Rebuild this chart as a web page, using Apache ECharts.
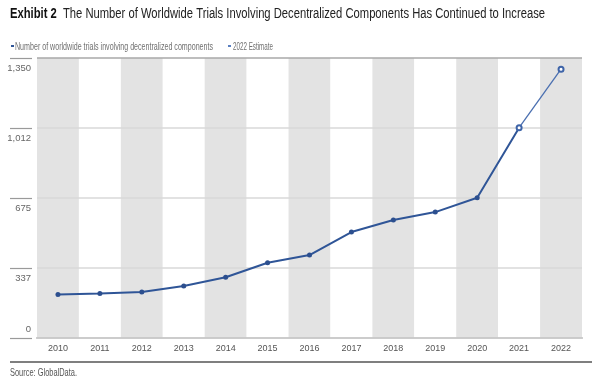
<!DOCTYPE html>
<html><head><meta charset="utf-8">
<script src="https://cdn.jsdelivr.net/npm/echarts@6/dist/echarts.min.js"></script>
<style>html,body{margin:0;padding:0;background:#fff}#c{width:600px;height:380px}</style>
</head><body><div id="c"></div>
<script>
var years = ['2010','2011','2012','2013','2014','2015','2016','2017','2018','2019','2020','2021','2022'];
var trials = [210, 215, 222, 251, 293, 363, 400, 511, 569, 607, 676, 1014, null];
var estimate = [null, null, null, null, null, null, null, null, null, null, null, 1014, 1296];
var yTickLabels = ['0', '337', '675', '1,012', '1,350'];
var seriesNames = ['Number of worldwide trials involving decentralized components', '2022 Estimate'];
var titleBold = 'Exhibit 2';
var titleText = 'The Number of Worldwide Trials Involving Decentralized Components Has Continued to Increase';
var sourceText = 'Source: GlobalData.';
var FONT = '"Liberation Sans",Arial,sans-serif';

var cv = document.createElement('canvas').getContext('2d');
function tw(font, s) { cv.font = font; return cv.measureText(s).width; }

var titleW = tw('bold 14px ' + FONT, titleBold) + tw('14px ' + FONT, '  ' + titleText);
var titleScale = 535 / titleW;
var leg1Scale = 198 / tw('11px ' + FONT, seriesNames[0]);
var leg2Scale = 40 / tw('11px ' + FONT, seriesNames[1]);
var srcScale = 67 / tw('11px ' + FONT, sourceText);

var chart = echarts.init(document.getElementById('c'), null, {renderer:'canvas'});
chart.setOption({
  animation: false,
  backgroundColor: '#fff',
  grid: { left: 37, right: 18, top: 58, bottom: 42 },
  xAxis: {
    type: 'category', data: years, boundaryGap: true, z: 0,
    axisLine: { show: true, lineStyle: { color: '#8a8a8a', width: 1.5 } },
    axisTick: { show: false },
    axisLabel: { fontFamily: FONT, fontSize: 9, color: '#555', margin: 6 },
    splitArea: { show: true, areaStyle: { color: ['#e3e3e3', '#ffffff'] } }
  },
  yAxis: {
    type: 'value', min: 0, max: 1350, interval: 337.5, offset: 5, z: 2,
    axisLine: { show: false },
    axisTick: { show: true, length: 22, lineStyle: { color: '#9a9a9a', width: 1.2 } },
    axisLabel: {
      fontFamily: FONT, fontSize: 9.5, color: '#666', margin: 1,
      formatter: function (v, i) { return i === 0 ? '{up|' + yTickLabels[i] + '}' : '{dn|' + yTickLabels[i] + '}'; },
      rich: {
        up: { fontFamily: FONT, fontSize: 9.5, color: '#666', padding: [0, 0, 18, 0] },
        dn: { fontFamily: FONT, fontSize: 9.5, color: '#666', padding: [20, 0, 0, 0] }
      }
    },
    splitLine: { show: true, lineStyle: { color: ['#d8d8d8','#d8d8d8','#d8d8d8','#d8d8d8','#a8a8a8'], width: 1.5 } }
  },
  series: [
    {
      name: seriesNames[0],
      type: 'line', data: trials, z: 3,
      lineStyle: { width: 2, color: '#2f5597' },
      symbol: 'circle', symbolSize: 5,
      itemStyle: { color: '#2c4f8f' }
    },
    {
      name: seriesNames[1],
      type: 'line', data: estimate, z: 4,
      lineStyle: { width: 1.3, color: '#4a6fb0' },
      symbol: 'emptyCircle', symbolSize: 5,
      itemStyle: { color: '#3e64a8', borderWidth: 1.3 }
    }
  ],
  graphic: [
    { type: 'text', x: 10, y: 7, scaleX: titleScale,
      style: { text: '{b|' + titleBold + '}  ' + titleText, font: '14px ' + FONT, fill: '#222',
        rich: { b: { font: 'bold 14px ' + FONT, fill: '#111' } } } },
    { type: 'rect', shape: { x: 11, y: 45, width: 3, height: 2 }, style: { fill: '#2f5597' } },
    { type: 'text', x: 15, y: 41, scaleX: leg1Scale, style: { text: seriesNames[0], font: '11px ' + FONT, fill: '#707070' } },
    { type: 'rect', shape: { x: 228, y: 45, width: 3, height: 2 }, style: { fill: '#5a7fc0' } },
    { type: 'text', x: 233, y: 41, scaleX: leg2Scale, style: { text: seriesNames[1], font: '11px ' + FONT, fill: '#707070' } },
    { type: 'line', shape: { x1: 10, y1: 362, x2: 592, y2: 362 }, style: { stroke: '#555', lineWidth: 1.5 } },
    { type: 'text', x: 10, y: 367, scaleX: srcScale, style: { text: sourceText, font: '11px ' + FONT, fill: '#555' } }
  ]
});
</script></body></html>
